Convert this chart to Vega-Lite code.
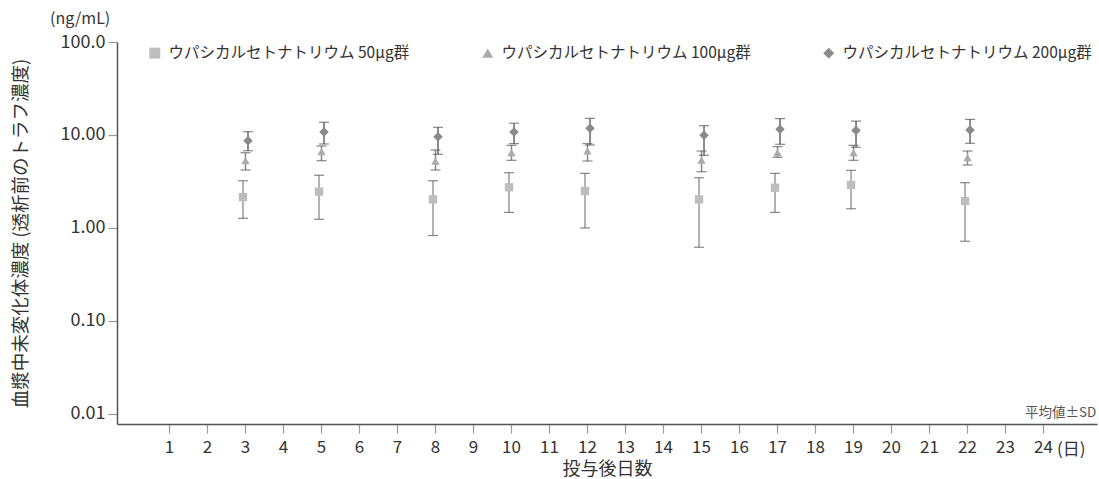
{
  "$schema": "https://vega.github.io/schema/vega-lite/v6.json",
  "width": 980,
  "height": 382,
  "autosize": {"type": "none"},
  "padding": {"left": 117, "top": 42, "right": 2, "bottom": 55},
  "background": "white",
  "config": {
    "view": {"stroke": null},
    "font": "Noto Sans CJK JP",
    "text": {"font": "Noto Sans CJK JP"}
  },
  "title": {
    "text": "(ng/mL)",
    "anchor": "start",
    "frame": "group",
    "dx": -67,
    "offset": 6,
    "fontSize": 16,
    "fontWeight": "normal",
    "color": "#333",
    "font": "Noto Sans CJK JP"
  },
  "datasets": {
    "pk": [
      {"day": 3, "group": "ウパシカルセトナトリウム 50μg群", "mean": 2.15, "lo": 1.27, "hi": 3.22},
      {"day": 5, "group": "ウパシカルセトナトリウム 50μg群", "mean": 2.46, "lo": 1.24, "hi": 3.69},
      {"day": 8, "group": "ウパシカルセトナトリウム 50μg群", "mean": 2.03, "lo": 0.83, "hi": 3.22},
      {"day": 10, "group": "ウパシカルセトナトリウム 50μg群", "mean": 2.74, "lo": 1.47, "hi": 3.93},
      {"day": 12, "group": "ウパシカルセトナトリウム 50μg群", "mean": 2.5, "lo": 1.0, "hi": 3.87},
      {"day": 15, "group": "ウパシカルセトナトリウム 50μg群", "mean": 2.03, "lo": 0.62, "hi": 3.47},
      {"day": 17, "group": "ウパシカルセトナトリウム 50μg群", "mean": 2.71, "lo": 1.47, "hi": 3.87},
      {"day": 19, "group": "ウパシカルセトナトリウム 50μg群", "mean": 2.9, "lo": 1.61, "hi": 4.17},
      {"day": 22, "group": "ウパシカルセトナトリウム 50μg群", "mean": 1.95, "lo": 0.72, "hi": 3.07},
      {"day": 3, "group": "ウパシカルセトナトリウム 100μg群", "mean": 5.29, "lo": 4.2, "hi": 6.45},
      {"day": 5, "group": "ウパシカルセトナトリウム 100μg群", "mean": 6.61, "lo": 5.29, "hi": 7.62},
      {"day": 8, "group": "ウパシカルセトナトリウム 100μg群", "mean": 5.25, "lo": 4.2, "hi": 6.9},
      {"day": 10, "group": "ウパシカルセトナトリウム 100μg群", "mean": 6.45, "lo": 5.34, "hi": 7.74},
      {"day": 12, "group": "ウパシカルセトナトリウム 100μg群", "mean": 6.73, "lo": 5.25, "hi": 8.07},
      {"day": 15, "group": "ウパシカルセトナトリウム 100μg群", "mean": 5.38, "lo": 4.03, "hi": 6.73},
      {"day": 17, "group": "ウパシカルセトナトリウム 100μg群", "mean": 6.45, "lo": 5.75, "hi": 7.5},
      {"day": 19, "group": "ウパシカルセトナトリウム 100μg群", "mean": 6.45, "lo": 5.34, "hi": 7.74},
      {"day": 22, "group": "ウパシカルセトナトリウム 100μg群", "mean": 5.7, "lo": 4.76, "hi": 6.73},
      {"day": 3, "group": "ウパシカルセトナトリウム 200μg群", "mean": 8.68, "lo": 6.78, "hi": 10.85},
      {"day": 5, "group": "ウパシカルセトナトリウム 200μg群", "mean": 10.77, "lo": 8.0, "hi": 13.7},
      {"day": 8, "group": "ウパシカルセトナトリウム 200μg群", "mean": 9.59, "lo": 6.2, "hi": 12.1},
      {"day": 10, "group": "ウパシカルセトナトリウム 200μg群", "mean": 10.77, "lo": 8.07, "hi": 13.4},
      {"day": 12, "group": "ウパシカルセトナトリウム 200μg群", "mean": 11.8, "lo": 7.8, "hi": 15.1},
      {"day": 15, "group": "ウパシカルセトナトリウム 200μg群", "mean": 9.93, "lo": 6.05, "hi": 12.6},
      {"day": 17, "group": "ウパシカルセトナトリウム 200μg群", "mean": 11.5, "lo": 7.94, "hi": 15.0},
      {"day": 19, "group": "ウパシカルセトナトリウム 200μg群", "mean": 11.2, "lo": 7.37, "hi": 14.1},
      {"day": 22, "group": "ウパシカルセトナトリウム 200μg群", "mean": 11.3, "lo": 8.14, "hi": 14.7}
    ],
    "notes": [
      {"day": 25.4, "conc": 0.0078, "label": "平均値±SD"}
    ],
    "unit": [
      {"day": 24, "conc": 0.0078, "label": "(日)"}
    ]
  },
  "data": {"name": "pk"},
  "encoding": {
    "x": {
      "field": "day",
      "type": "quantitative",
      "scale": {"domain": [-0.368, 25.42], "nice": false, "zero": false},
      "axis": {
        "values": [1,2,3,4,5,6,7,8,9,10,11,12,13,14,15,16,17,18,19,20,21,22,23,24],
        "grid": false,
        "title": "投与後日数",
        "titleFontSize": 18,
        "titleFontWeight": "normal",
        "titleColor": "#333",
        "titlePadding": 5,
        "labelFontSize": 17,
        "labelColor": "#333",
        "labelPadding": 6,
        "tickSize": 9,
        "tickColor": "#999",
        "tickWidth": 1.2,
        "domainColor": "#555",
        "domainWidth": 1.5,
        "labelFlush": false,
        "labelOverlap": false
      }
    },
    "y": {
      "type": "quantitative",
      "scale": {"type": "log", "domain": [0.0078, 100], "nice": false},
      "axis": {
        "values": [0.01, 0.1, 1, 10, 100],
        "labelExpr": "datum.value >= 100 ? '100.0' : datum.value >= 10 ? '10.00' : datum.value >= 1 ? '1.00' : datum.value >= 0.1 ? '0.10' : '0.01'",
        "grid": false,
        "title": "血漿中未変化体濃度 (透析前のトラフ濃度)",
        "titleFontSize": 18.5,
        "titleFontWeight": "normal",
        "titleColor": "#333",
        "titlePadding": 30,
        "labelFontSize": 18,
        "labelColor": "#333",
        "labelPadding": 3,
        "tickSize": 9,
        "tickColor": "#999",
        "tickWidth": 1.2,
        "domainColor": "#555",
        "domainWidth": 1.5,
        "labelFlush": false
      }
    }
  },
  "layer": [
    {
      "transform": [{"filter": "indexof(datum.group, ' 50μg') >= 0"}],
      "layer": [
        {"mark": {"type": "rule", "color": "#999", "strokeWidth": 1.5, "xOffset": -2}, "encoding": {"y": {"field": "lo"}, "y2": {"field": "hi"}}},
        {"mark": {"type": "tick", "orient": "horizontal", "color": "#555", "size": 10, "thickness": 1.2, "xOffset": -2}, "encoding": {"y": {"field": "lo"}}},
        {"mark": {"type": "tick", "orient": "horizontal", "color": "#555", "size": 10, "thickness": 1.2, "xOffset": -2}, "encoding": {"y": {"field": "hi"}}}
      ]
    },
    {
      "transform": [{"filter": "indexof(datum.group, ' 100μg') >= 0"}],
      "layer": [
        {"mark": {"type": "rule", "color": "#888", "strokeWidth": 1.5, "xOffset": 0.5}, "encoding": {"y": {"field": "lo"}, "y2": {"field": "hi"}}},
        {"mark": {"type": "tick", "orient": "horizontal", "color": "#555", "size": 10, "thickness": 1.2, "xOffset": 0.5}, "encoding": {"y": {"field": "lo"}}},
        {"mark": {"type": "tick", "orient": "horizontal", "color": "#555", "size": 10, "thickness": 1.2, "xOffset": 0.5}, "encoding": {"y": {"field": "hi"}}}
      ]
    },
    {
      "transform": [{"filter": "indexof(datum.group, ' 200μg') >= 0"}],
      "layer": [
        {"mark": {"type": "rule", "color": "#666", "strokeWidth": 1.5, "xOffset": 3}, "encoding": {"y": {"field": "lo"}, "y2": {"field": "hi"}}},
        {"mark": {"type": "tick", "orient": "horizontal", "color": "#555", "size": 10, "thickness": 1.2, "xOffset": 3}, "encoding": {"y": {"field": "lo"}}},
        {"mark": {"type": "tick", "orient": "horizontal", "color": "#555", "size": 10, "thickness": 1.2, "xOffset": 3}, "encoding": {"y": {"field": "hi"}}}
      ]
    },
    {
      "transform": [{"filter": "indexof(datum.group, ' 50μg') >= 0"}],
      "mark": {"type": "point", "filled": true, "opacity": 1, "size": 70, "xOffset": -2},
      "encoding": {
        "y": {"field": "mean"},
        "color": {"field": "group", "type": "nominal"},
        "shape": {"field": "group", "type": "nominal"}
      }
    },
    {
      "transform": [{"filter": "indexof(datum.group, ' 100μg') >= 0"}],
      "mark": {"type": "point", "filled": true, "opacity": 1, "size": 70, "xOffset": 0.5},
      "encoding": {
        "y": {"field": "mean"},
        "color": {"field": "group", "type": "nominal"},
        "shape": {"field": "group", "type": "nominal"}
      }
    },
    {
      "transform": [{"filter": "indexof(datum.group, ' 200μg') >= 0"}],
      "mark": {"type": "point", "filled": true, "opacity": 1, "size": 90, "xOffset": 3},
      "encoding": {
        "y": {"field": "mean"},
        "color": {
          "field": "group",
          "type": "nominal",
          "scale": {
            "domain": ["ウパシカルセトナトリウム 50μg群", "ウパシカルセトナトリウム 100μg群", "ウパシカルセトナトリウム 200μg群"],
            "range": ["#bdbdbd", "#ababab", "#8a8a8a"]
          },
          "legend": {
            "title": null,
            "orient": "none",
            "legendX": 30,
            "legendY": 3,
            "direction": "horizontal",
            "columns": 3,
            "columnPadding": 70,
            "labelFontSize": 15.5,
            "labelLimit": 0,
            "labelColor": "#333",
            "labelFont": "Noto Sans CJK JP",
            "symbolSize": 120,
            "symbolOpacity": 1,
            "labelOffset": 6
          }
        },
        "shape": {
          "field": "group",
          "type": "nominal",
          "scale": {
            "domain": ["ウパシカルセトナトリウム 50μg群", "ウパシカルセトナトリウム 100μg群", "ウパシカルセトナトリウム 200μg群"],
            "range": ["square", "triangle-up", "diamond"]
          }
        }
      }
    },
    {
      "data": {"name": "notes"},
      "mark": {"type": "text", "align": "right", "baseline": "bottom", "dy": -4, "fontSize": 13.5, "color": "#555"},
      "encoding": {
        "x": {"field": "day", "type": "quantitative"},
        "y": {"field": "conc", "type": "quantitative"},
        "text": {"field": "label"}
      }
    },
    {
      "data": {"name": "unit"},
      "mark": {"type": "text", "align": "left", "baseline": "middle", "dx": 14, "dy": 26, "fontSize": 17, "color": "#333"},
      "encoding": {
        "x": {"field": "day", "type": "quantitative"},
        "y": {"field": "conc", "type": "quantitative"},
        "text": {"field": "label"}
      }
    }
  ]
}
